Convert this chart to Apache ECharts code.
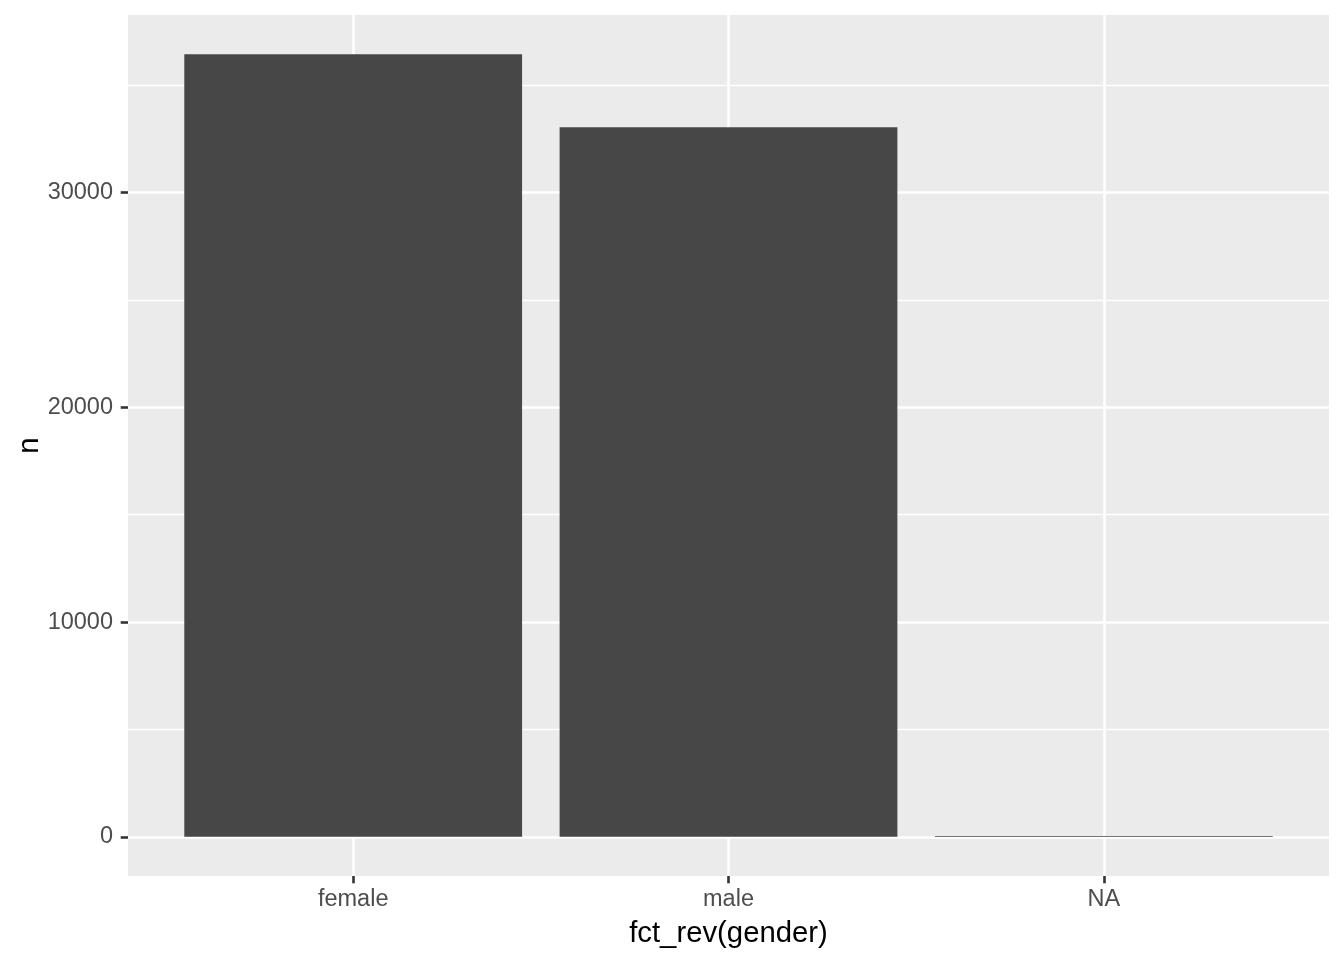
<!DOCTYPE html>
<html>
<head>
<meta charset="utf-8">
<script src="https://cdn.jsdelivr.net/npm/echarts@6/dist/echarts.min.js"></script>
<style>html,body{margin:0;padding:0;background:#fff}#c{width:1344px;height:960px}</style>
</head>
<body>
<div id="c"></div>
<script>
const categories = ['female', 'male', 'NA'];
const counts = [36439, 33040, 45];
const yTicks = [0, 10000, 20000, 30000];
const yMinor = [5000, 15000, 25000, 35000];

const positions = categories.map((c, i) => i + 1);
const yMax = Math.max(...counts);
const pad = yMax * 0.05;
const gridLeft = 128, gridRight = 15, gridTop = 15, gridBottom = 84;
const plotW = 1344 - gridLeft - gridRight;
const barW = 0.9 * plotW / 3.2;

const chart = echarts.init(document.getElementById('c'), null, {renderer: 'canvas'});
const font = 'Liberation Sans, Arial, Helvetica, sans-serif';
chart.setOption({
  animation: false,
  backgroundColor: '#ffffff',
  grid: {left: gridLeft, right: gridRight, top: gridTop, bottom: gridBottom, containLabel: false, outerBoundsMode: 'none',
    show: true, backgroundColor: '#EBEBEB', borderWidth: 0},
  xAxis: {
    type: 'value', min: 0.4, max: 3.6,
    axisLine: {show: false, onZero: false},
    axisTick: {show: true, length: 7.3, lineStyle: {color: '#333333', width: 2.6}, customValues: positions},
    axisLabel: {show: true, customValues: positions, margin: 12, color: '#4D4D4D', fontSize: 23.5, fontFamily: font,
      formatter: v => categories[Math.round(v) - 1] || ''},
    splitLine: {show: true, lineStyle: {color: '#ffffff', width: 2.6}},
    name: 'fct_rev(gender)', nameLocation: 'middle', nameGap: 43, nameMoveOverlap: false,
    nameTextStyle: {color: '#000000', fontSize: 29.3, fontFamily: font}
  },
  yAxis: [{
    type: 'value', min: -pad, max: yMax + pad,
    axisLine: {show: false, onZero: false},
    axisTick: {show: true, length: 7.3, lineStyle: {color: '#333333', width: 2.6}, customValues: yTicks},
    axisLabel: {show: true, customValues: yTicks, margin: 15, color: '#4D4D4D', fontSize: 23.5, fontFamily: font,
      formatter: v => String(Math.round(v))},
    splitLine: {show: true, lineStyle: {color: '#ffffff', width: 2.6}},
    name: 'n', nameLocation: 'middle', nameGap: 84, nameRotate: 90, nameMoveOverlap: false,
    nameTextStyle: {color: '#000000', fontSize: 29.3, fontFamily: font}
  }, {
    type: 'value', min: -pad, max: yMax + pad, position: 'left',
    axisLine: {show: false, onZero: false},
    axisTick: {show: false, customValues: yMinor},
    axisLabel: {show: false, customValues: yMinor},
    splitLine: {show: true, lineStyle: {color: '#ffffff', width: 1.3}}
  }],
  series: [{
    type: 'bar',
    yAxisIndex: 0,
    data: positions.map((p, i) => [p, counts[i]]),
    barWidth: barW,
    itemStyle: {color: '#474747'},
    silent: true
  }]
});
</script>
</body>
</html>
